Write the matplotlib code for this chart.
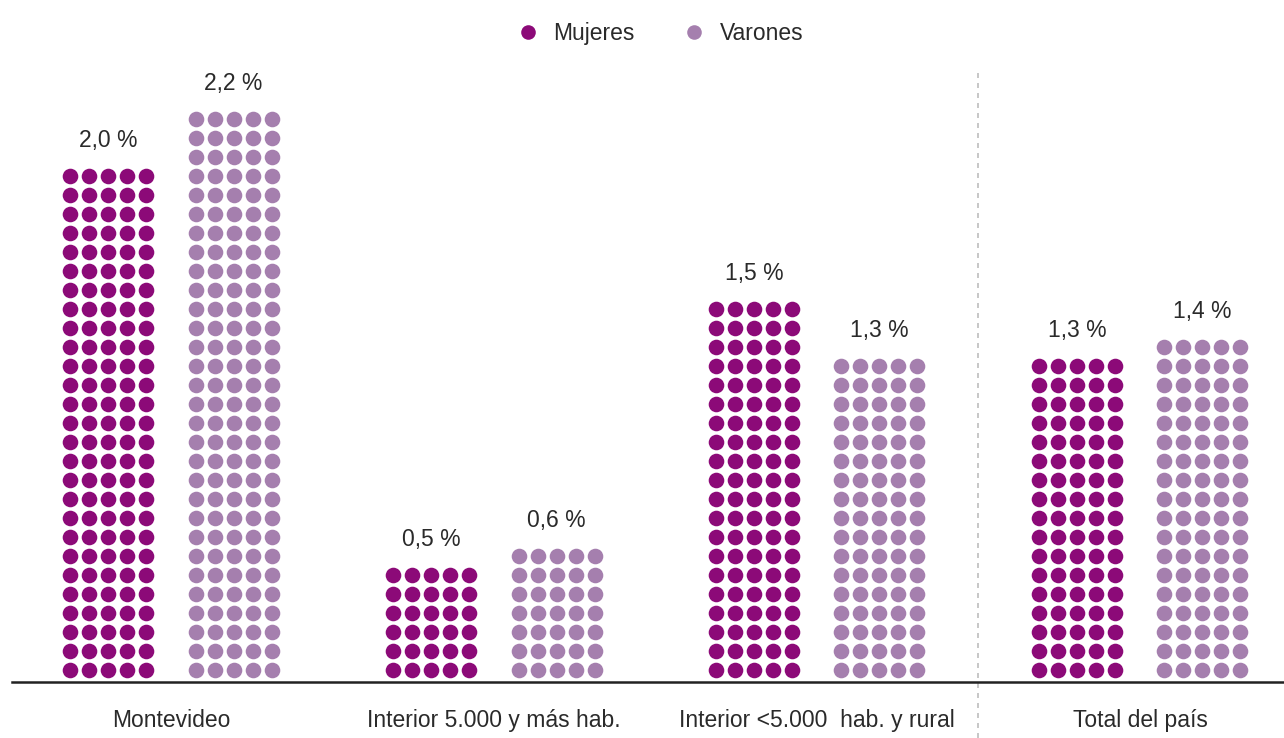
import matplotlib.pyplot as plt
from matplotlib.lines import Line2D

# Data.
categories = ["Montevideo", "Interior 5.000 y más hab.", "Interior <5.000  hab. y rural", "Total del país"]
series_names = ["Mujeres", "Varones"]
mujeres_values = ["2,0 %", "0,5 %", "1,5 %", "1,3 %"]
varones_values = ["2,2 %", "0,6 %", "1,3 %", "1,4 %"]
# Number of dot rows in each column (5 dots per row).
mujeres_rows = [27, 6, 20, 17]
varones_rows = [30, 7, 17, 18]

colors = ["#8c0a78", "#a57fae"]
text_color = "#2a2a2a"
plt.rcParams["font.family"] = ["Liberation Sans", "DejaVu Sans"]
fsize = 16.5

# Layout, in units of one dot pitch.
dots_per_row = 5
group_gap = 17.0
series_offset = 3.29
dot_size = 126

fig = plt.figure(figsize=(12.84, 7.38), dpi=100)
ax = fig.add_axes([0, 0, 1, 1])
ax.set_xlim(-9.0, 58.58)
ax.set_ylim(-3.58, 35.26)
ax.axis("off")

all_values = [mujeres_values, varones_values]
all_rows = [mujeres_rows, varones_rows]

for i, cat in enumerate(categories):
    center = i * group_gap
    for j in range(2):
        block_center = center + (j - 0.5) * 2 * series_offset
        n_rows = all_rows[j][i]
        xs = []
        ys = []
        for r in range(n_rows):
            for c in range(dots_per_row):
                xs.append(block_center + (c - (dots_per_row - 1) / 2))
                ys.append(r)
        ax.scatter(xs, ys, s=dot_size, color=colors[j], linewidths=0, zorder=3)
        ax.text(block_center, n_rows - 1 + 1.5, all_values[j][i], ha="center", va="baseline",
                fontsize=fsize, color=text_color)
    ax.text(center, -3.0, cat, ha="center", va="baseline", fontsize=fsize, color=text_color)

# Baseline and separator before the country total.
ax.axhline(-0.62, xmin=12 / 1284, xmax=1, color="#222222", lw=1.8, zorder=4)
ax.axvline(2.5 * group_gap, ymin=0, ymax=(738 - 70) / 738, color="#bdbdbd", lw=1.2,
           ls=(0, (3, 3)), zorder=1)

handles = [Line2D([], [], marker="o", ls="none", markersize=10.5, markeredgewidth=0, color=c)
           for c in colors]
fig.legend(handles, series_names, loc="center", bbox_to_anchor=(0.514, 0.955), ncol=2,
           frameon=False, fontsize=fsize, handletextpad=0.6, columnspacing=2.1, handlelength=1.0,
           labelcolor=text_color)

fig.savefig("out.png", dpi=100)
